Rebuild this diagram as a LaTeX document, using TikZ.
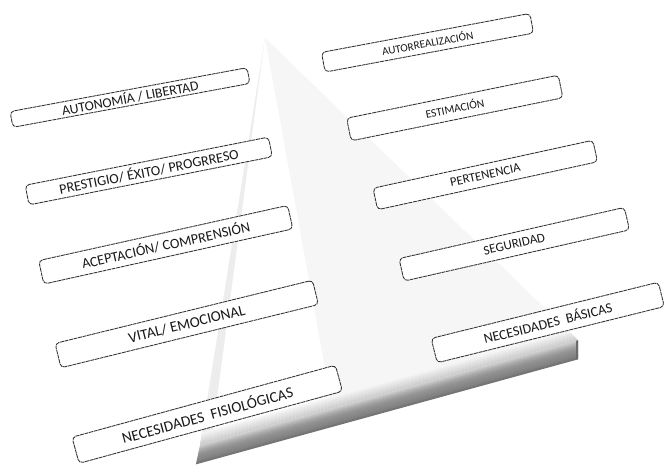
\documentclass[tikz,border=0pt]{standalone}
\usepackage{fontspec}
\setmainfont{Carlito}
\usetikzlibrary{calc}
\begin{document}
\begin{tikzpicture}[x=0.75pt,y=-0.75pt,
  lbl/.style={draw=black!80, fill=white, rounded corners=3pt, line width=0.65pt,
    dash pattern=on 3pt off 0.5pt, inner sep=0pt, align=center, text=black!90},
  fs/.style={font=\fontsize{#1}{#1}\selectfont}
]
\useasboundingbox (0,0) rectangle (668,467);
% pyramid face
\coordinate (apex) at (265,38);
\coordinate (bl) at (200,445);
\coordinate (br) at (578,340);
\coordinate (bl2) at (196,464);
\coordinate (br2) at (578,359);
\fill[gray!7] (apex) -- (bl) -- (br) -- cycle;
\fill[gray!14] (apex) -- (bl) -- ($(bl)!0.03!(br)$) -- cycle;
\fill[white] (apex) -- ($(bl)!0.03!(br)$) -- ($(bl)!0.35!(br)$) -- cycle;
% soft shadow above slab, clipped to the face
\begin{scope}
  \clip (apex) -- (bl) -- (br) -- cycle;
  \foreach \i in {0,...,5}{
    \pgfmathsetmacro{\ya}{-12+2*\i}
    \pgfmathsetmacro{\yb}{-10+2*\i}
    \pgfmathsetmacro{\c}{4+3*\i}
    \fill[black!\c] ($(bl)+(0,\ya)$) -- ($(br)+(0,\ya)$) -- ($(br)+(0,\yb)$) -- ($(bl)+(0,\yb)$) -- cycle;
  }
\end{scope}
% slab
\foreach \i/\c in {0/20,1/26,2/32,3/37,4/41,5/44,6/46,7/48,8/50,9/54}{
  \pgfmathsetmacro{\a}{\i/10}
  \pgfmathsetmacro{\b}{(\i+1.2)/10}
  \fill[black!\c] ($(bl)!\a!(bl2)$) -- ($(br)!\a!(br2)$) -- ($(br)!\b!(br2)$) -- ($(bl)!\b!(bl2)$) -- cycle;
}
\fill[black!58] ($(br)+(-2,1)$) -- (br) -- (br2) -- ($(br2)+(-2,0.5)$) -- cycle;
% left labels
\node[lbl, fs=10.4, rotate=10.5, minimum width=180.8pt, minimum height=12pt] (l1) at (130,97.5) {AUTONOMÍA / LIBERTAD};
\node[lbl, fs=10.6, rotate=11.2, minimum width=186pt, minimum height=15pt] (l2) at (148.75,171) {PRESTIGIO/ ÉXITO/ PROGRRESO};
\node[lbl, fs=10.7, rotate=12.5, minimum width=191.3pt, minimum height=18pt] (l3) at (165.75,244.75) {ACEPTACIÓN/ COMPRENSIÓN};
\node[lbl, fs=11.3, rotate=13.8, minimum width=198.8pt, minimum height=18.8pt] (l4) at (186.75,324) {VITAL/ EMOCIONAL};
\node[lbl, fs=11.4, rotate=15.3, minimum width=204.8pt, minimum height=20.3pt] (l5) at (207.25,414.25) {NECESIDADES\ \ FISIOLÓGICAS};
% right labels
\node[lbl, fs=8.4, rotate=10.6, minimum width=159pt, minimum height=15pt] (r1) at (427.5,42.75) {AUTORREALIZACIÓN};
\node[lbl, fs=8.6, rotate=11.5, minimum width=162pt, minimum height=17.3pt] (r2) at (454.75,108) {ESTIMACIÓN};
\node[lbl, fs=9.5, rotate=12.3, minimum width=168.8pt, minimum height=16.5pt] (r3) at (485.25,175) {PERTENENCIA};
\node[lbl, fs=9.8, rotate=12.8, minimum width=173.3pt, minimum height=17.3pt] (r4) at (514.25,244.25) {SEGURIDAD};
\node[lbl, fs=10.5, rotate=13.9, minimum width=175.5pt, minimum height=18.8pt] (r5) at (547.75,322.5) {NECESIDADES\ \ BÁSICAS};
\end{tikzpicture}
\end{document}
